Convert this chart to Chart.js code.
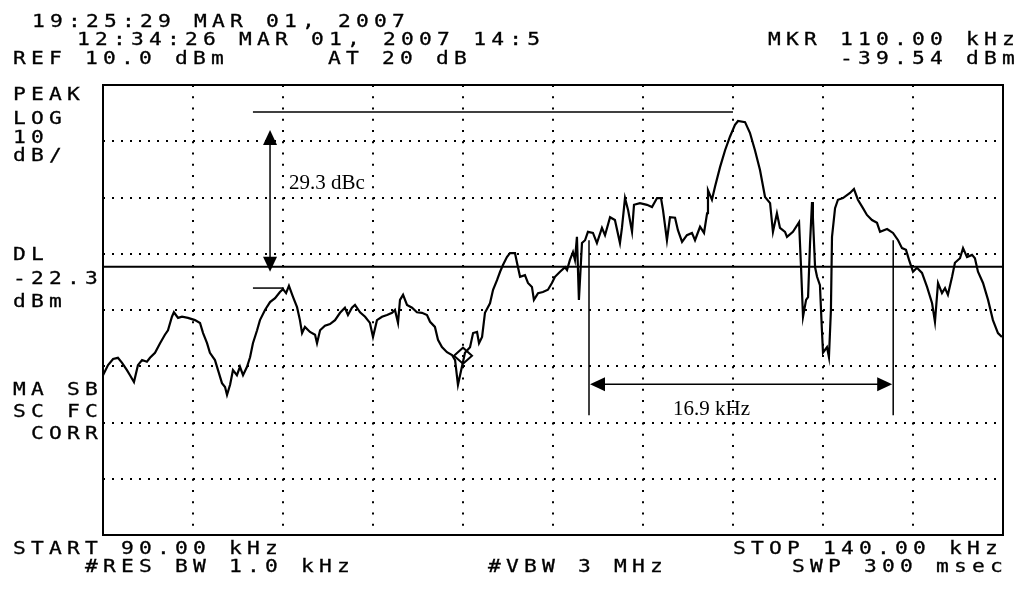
<!DOCTYPE html>
<html>
<head>
<meta charset="utf-8">
<script src="https://cdn.jsdelivr.net/npm/chart.js@4.4.1/dist/chart.umd.min.js"></script>
<style>
  body { margin: 0; background: #fff; }
  #wrap { position: relative; width: 1025px; height: 591px; overflow: hidden; }
  #miGrafica { position: absolute; left: 0; top: 0; }
  .t { position: absolute; font-family: "DejaVu Sans Mono", monospace; font-size: 17px;
       line-height: 17px; letter-spacing: 4.17px; white-space: pre; color: #000;
       transform: scaleX(1.25); transform-origin: 0 0; -webkit-text-stroke: 0.3px #000; }
  .s { position: absolute; font-family: "Liberation Serif", "Times New Roman", serif; font-size: 21px;
       line-height: 21px; white-space: pre; color: #000; }
</style>
</head>
<body>
<div id="wrap">
  <canvas id="miGrafica" width="1025" height="591"></canvas>
</div>
<script>
// barrido del analizador: frecuencia (kHz) y nivel (dBm)
var freqKHz = [90.00, 90.28, 90.56, 90.83, 91.06, 91.33, 91.50, 91.72, 91.94, 92.17, 92.44, 92.61, 92.89, 93.17, 93.44, 93.61, 93.83, 93.94, 94.17, 94.39,
  94.72, 95.11, 95.39, 95.56, 95.78, 95.94, 96.22, 96.39, 96.61, 96.78, 96.89, 97.06, 97.22, 97.44, 97.61, 97.78, 98.00, 98.17, 98.33, 98.56,
  98.72, 99.00, 99.28, 99.56, 99.83, 100.00, 100.17, 100.33, 100.56, 100.78, 100.94, 101.06, 101.22, 101.50, 101.78, 101.89, 102.06, 102.33, 102.61, 102.89,
  103.17, 103.44, 103.61, 103.83, 104.00, 104.28, 104.56, 104.83, 105.00, 105.22, 105.50, 105.78, 106.06, 106.22, 106.39, 106.50, 106.67, 106.89, 107.17, 107.44,
  107.72, 108.00, 108.17, 108.44, 108.61, 108.83, 109.11, 109.39, 109.56, 109.72, 109.94, 110.11, 110.39, 110.56, 110.78, 110.89, 111.06, 111.22, 111.50, 111.67,
  111.89, 112.06, 112.22, 112.44, 112.61, 112.89, 113.00, 113.17, 113.44, 113.61, 113.83, 113.94, 114.17, 114.44, 114.72, 114.94, 115.11, 115.39, 115.67, 115.78,
  115.94, 116.11, 116.22, 116.33, 116.44, 116.61, 116.78, 116.94, 117.22, 117.44, 117.72, 117.89, 118.17, 118.44, 118.72, 118.83, 119.00, 119.17, 119.39, 119.50,
  119.83, 120.22, 120.50, 120.78, 121.00, 121.11, 121.33, 121.50, 121.78, 121.94, 122.17, 122.44, 122.72, 122.89, 123.17, 123.39, 123.56, 123.61, 123.83, 124.00,
  124.28, 124.56, 124.83, 125.11, 125.28, 125.67, 125.94, 126.22, 126.50, 126.78, 127.06, 127.22, 127.44, 127.61, 127.89, 128.00, 128.33, 128.67, 128.78, 128.89,
  129.06, 129.17, 129.28, 129.39, 129.44, 129.56, 129.67, 129.83, 129.94, 130.00, 130.22, 130.33, 130.44, 130.50, 130.67, 130.83, 131.11, 131.50, 131.72, 131.94,
  132.22, 132.44, 132.72, 133.00, 133.17, 133.56, 133.89, 134.17, 134.39, 134.61, 134.78, 135.00, 135.22, 135.50, 135.78, 136.06, 136.22, 136.39, 136.61, 136.78,
  136.94, 137.17, 137.33, 137.61, 137.78, 138.00, 138.28, 138.44, 138.61, 138.89, 139.17, 139.44, 139.72, 139.94];
var levelDbm = [-41.6, -39.8, -38.7, -38.5, -39.4, -40.7, -41.6, -42.8, -39.8, -38.9, -39.2, -38.5, -37.6, -35.9, -34.4, -33.6, -31.2, -30.4, -31.4, -31.2,
  -31.4, -31.8, -32.3, -34.1, -35.9, -37.6, -38.9, -40.7, -43.0, -43.7, -45.1, -43.3, -40.7, -41.6, -40.1, -41.6, -40.1, -38.4, -35.9, -33.6,
  -31.8, -30.0, -28.6, -27.9, -26.8, -26.3, -27.0, -25.7, -27.7, -29.5, -31.8, -34.1, -33.0, -33.9, -34.4, -35.9, -33.6, -32.8, -32.5, -31.8,
  -30.5, -29.6, -30.9, -29.6, -29.1, -30.4, -31.2, -32.3, -34.8, -31.8, -31.2, -30.9, -30.5, -30.0, -32.3, -28.2, -27.3, -29.1, -29.6, -30.4,
  -30.5, -30.9, -32.1, -33.0, -35.3, -36.6, -37.5, -38.0, -38.9, -43.3, -40.1, -37.6, -36.6, -34.1, -33.9, -35.9, -34.8, -30.5, -28.8, -26.4,
  -24.7, -23.2, -22.0, -20.6, -19.9, -19.9, -21.6, -24.1, -23.8, -25.2, -25.9, -28.2, -27.0, -26.8, -26.4, -25.2, -24.1, -23.2, -22.4, -22.9,
  -21.1, -19.7, -21.1, -17.0, -28.2, -18.1, -17.6, -16.1, -16.3, -18.1, -15.4, -16.7, -13.5, -14.0, -18.1, -15.4, -10.1, -12.2, -16.1, -11.3,
  -11.0, -11.3, -11.7, -10.1, -10.1, -12.2, -17.6, -13.5, -13.6, -15.8, -17.9, -16.7, -16.3, -17.6, -15.2, -16.3, -12.8, -8.7, -10.4, -8.1,
  -4.6, -1.6, 0.8, 2.9, 3.6, 3.4, 1.5, -1.6, -5.1, -9.9, -11.0, -16.1, -12.8, -15.4, -16.1, -17.0, -16.1, -14.4, -22.4, -31.2,
  -28.2, -27.7, -18.1, -10.8, -13.6, -22.4, -24.1, -25.6, -33.6, -37.6, -36.6, -38.4, -30.0, -17.0, -11.9, -10.4, -10.1, -9.2, -8.5, -10.4,
  -11.9, -13.1, -14.0, -14.5, -16.1, -15.6, -16.3, -17.6, -19.0, -19.3, -21.1, -23.2, -22.5, -23.4, -25.9, -28.8, -32.1, -25.2, -27.0, -26.1,
  -27.3, -24.1, -21.6, -20.8, -19.0, -20.6, -20.2, -20.8, -23.2, -25.2, -28.2, -31.8, -34.1, -34.8];

// escala del analizador
var startKHz = 90, stopKHz = 140, kHzPerDiv = 5;
var refDbm = 10, dbPerDiv = 10, numDivs = 8;
var displayLineDbm = -22.3;
var markerKHz = 110.00, markerDbm = -39.54;

// marcas de medida (dBc y ancho)
var carrierRefDbm = 5.2, spurRefDbm = -26.1;
var dbcLineKHz = [98.33, 125.0], spurLineKHz = [98.33, 100.0];
var dbcArrowKHz = 99.28, dbcArrowDbm = [2.0, -23.2];
var bwEdgesKHz = [117.0, 133.9], bwLineDbm = [-17.6, -48.7], bwArrowDbm = -43.2;

// textos de pantalla
var textos = [
  ['19:25:29 MAR 01, 2007', 32, 15],
  ['REF 10.0 dBm', 13, 52],
  ['AT 20 dB', 328, 52],
  ['MKR 110.00 kHz', 768, 33],
  ['-39.54 dBm', 840, 52],
  ['PEAK', 13, 88], ['LOG', 13, 112], ['10', 13, 131], ['dB/', 13, 149],
  ['DL', 13, 248], ['-22.3', 13, 272], ['dBm', 13, 295],
  ['MA SB', 13, 383], ['SC FC', 13, 405], ['CORR', 31, 427],
  ['START 90.00 kHz', 13, 542], ['#RES BW 1.0 kHz', 85, 560], ['#VBW 3 MHz', 488, 560],
  ['STOP 140.00 kHz', 733, 542], ['SWP 300 msec', 792, 560]
];

var wrap = document.getElementById('wrap');
function addText(cls, txt, x, top, w) {
  var d = document.createElement('div');
  d.className = cls;
  d.textContent = txt;
  d.style.left = x + 'px';
  d.style.top = top + 'px';
  if (w) { d.style.width = w + 'px'; d.style.overflow = 'hidden'; }
  wrap.appendChild(d);
}
textos.forEach(function (t) { addText('t', t[0], t[1], t[2] - 2); });
addText('t', '12:34:26 MAR 01, 2007 14:56', 77, 31, 372);
addText('s', '29.3 dBc', 289, 189 - 17.5);
addText('s', '16.9 kHz', 673, 415 - 17.5);

function arrowHead(ctx, x, y, dx, dy) {
  var L = 15, W = 7;
  ctx.beginPath();
  ctx.moveTo(x, y);
  ctx.lineTo(x - dx * L - dy * W, y - dy * L + dx * W);
  ctx.lineTo(x - dx * L + dy * W, y - dy * L - dx * W);
  ctx.closePath();
  ctx.fill();
}
function seg(ctx, x1, y1, x2, y2) {
  ctx.beginPath(); ctx.moveTo(x1, y1); ctx.lineTo(x2, y2); ctx.stroke();
}

var marcas = {
  id: 'marcas',
  afterDatasetsDraw: function (chart) {
    var ctx = chart.ctx, a = chart.chartArea, x = chart.scales.x, y = chart.scales.y;
    ctx.save();
    ctx.strokeStyle = '#000';
    ctx.fillStyle = '#000';
    ctx.lineWidth = 2;
    // linea de display
    var yd = y.getPixelForValue(displayLineDbm);
    seg(ctx, a.left, yd, a.right, yd);
    // marcador
    var mx = x.getPixelForValue(markerKHz), my = y.getPixelForValue(markerDbm);
    ctx.beginPath();
    ctx.moveTo(mx, my); ctx.lineTo(mx + 9, my - 8); ctx.lineTo(mx, my - 16); ctx.lineTo(mx - 9, my - 8);
    ctx.closePath(); ctx.stroke();
    // medida dBc
    ctx.lineWidth = 1.5;
    var yc = y.getPixelForValue(carrierRefDbm), ys = y.getPixelForValue(spurRefDbm);
    seg(ctx, x.getPixelForValue(dbcLineKHz[0]), yc, x.getPixelForValue(dbcLineKHz[1]), yc);
    seg(ctx, x.getPixelForValue(spurLineKHz[0]), ys, x.getPixelForValue(spurLineKHz[1]), ys);
    var xa = x.getPixelForValue(dbcArrowKHz);
    var y1 = y.getPixelForValue(dbcArrowDbm[0]), y2 = y.getPixelForValue(dbcArrowDbm[1]);
    seg(ctx, xa, y1 + 10, xa, y2 - 10);
    arrowHead(ctx, xa, y1, 0, -1);
    arrowHead(ctx, xa, y2, 0, 1);
    // medida de ancho
    var xl = x.getPixelForValue(bwEdgesKHz[0]), xr = x.getPixelForValue(bwEdgesKHz[1]);
    var yt = y.getPixelForValue(bwLineDbm[0]), yb = y.getPixelForValue(bwLineDbm[1]);
    seg(ctx, xl, yt, xl, yb);
    seg(ctx, xr, yt, xr, yb);
    var yw = y.getPixelForValue(bwArrowDbm);
    seg(ctx, xl + 10, yw, xr - 10, yw);
    arrowHead(ctx, xl + 1, yw, -1, 0);
    arrowHead(ctx, xr - 1, yw, 1, 0);
    // marco
    ctx.lineWidth = 2;
    ctx.strokeRect(a.left, a.top, a.right - a.left, a.bottom - a.top);
    ctx.restore();
  }
};

var ctx = document.getElementById('miGrafica').getContext('2d');
var chart = new Chart(ctx, {
  type: 'line',
  data: {
    datasets: [{
      label: 'traza',
      data: freqKHz.map(function (f, i) { return { x: f, y: levelDbm[i] }; }),
      borderColor: '#000',
      borderWidth: 2.2,
      pointRadius: 0,
      tension: 0,
      fill: false
    }]
  },
  options: {
    responsive: false,
    animation: false,
    events: [],
    layout: { padding: { left: 103, top: 85, right: 22, bottom: 56 } },
    plugins: { legend: { display: false }, tooltip: { enabled: false } },
    scales: {
      x: {
        type: 'linear', min: startKHz, max: stopKHz,
        ticks: { display: false, stepSize: kHzPerDiv },
        grid: { color: '#000', lineWidth: 2, drawTicks: false },
        border: { display: false, dash: [2, 9.25] },
        afterFit: function (s) { s.height = 0; }
      },
      y: {
        type: 'linear', min: refDbm - numDivs * dbPerDiv, max: refDbm,
        ticks: { display: false, stepSize: dbPerDiv },
        grid: { color: '#000', lineWidth: 2, drawTicks: false },
        border: { display: false, dash: [2, 7] },
        afterFit: function (s) { s.width = 0; }
      }
    }
  },
  plugins: [marcas]
});
</script>
</body>
</html>
